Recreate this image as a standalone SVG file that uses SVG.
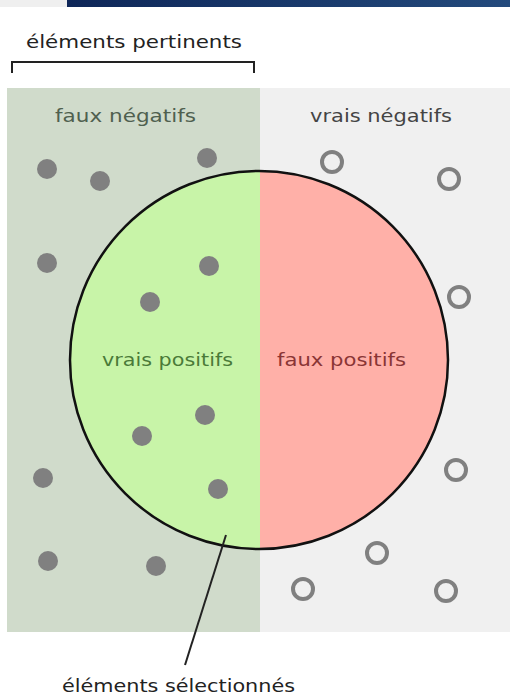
<svg xmlns="http://www.w3.org/2000/svg" width="510" height="697" viewBox="0 0 510 697">
<defs>
<linearGradient id="bar" x1="0" y1="0" x2="1" y2="0">
<stop offset="0" stop-color="#0e2658"/>
<stop offset="1" stop-color="#234a7c"/>
</linearGradient>
<clipPath id="cl"><rect x="0" y="0" width="260" height="697"/></clipPath>
<clipPath id="cr"><rect x="260" y="0" width="250" height="697"/></clipPath>
</defs>
<style>
text{font-family:"DejaVu Sans","Liberation Sans",sans-serif;font-size:17px}
.dot{fill:#808080}
.ring{fill:none;stroke:#808080;stroke-width:4}
.ln{stroke:#222;stroke-width:2;fill:none}
</style>
<rect x="0" y="0" width="67" height="7" fill="#efefef"/>
<rect x="67" y="0" width="443" height="7" fill="url(#bar)"/>
<g id="relevant">
<rect x="7" y="88" width="253" height="544" fill="#d0dbcb"/>
<text x="55" y="122" fill="#4f604f" textLength="141" lengthAdjust="spacingAndGlyphs">faux négatifs</text>
</g>
<g id="irrelevant">
<rect x="260" y="88" width="250" height="544" fill="#f0f0f0"/>
<text x="310" y="122" fill="#444" textLength="142" lengthAdjust="spacingAndGlyphs">vrais négatifs</text>
</g>
<g id="selected">
<circle cx="259" cy="360" r="189" fill="#c8f4a8" clip-path="url(#cl)"/>
<circle cx="259" cy="360" r="189" fill="#ffb0a8" clip-path="url(#cr)"/>
<circle cx="259" cy="360" r="189" fill="none" stroke="#111" stroke-width="2.5"/>
<text x="102" y="366" fill="#4a7a38" textLength="131" lengthAdjust="spacingAndGlyphs">vrais positifs</text>
<text x="277" y="366" fill="#8a3535" textLength="129" lengthAdjust="spacingAndGlyphs">faux positifs</text>
</g>
<g id="dots">
<circle class="dot" cx="47" cy="169" r="10"/>
<circle class="dot" cx="100" cy="181" r="10"/>
<circle class="dot" cx="207" cy="158" r="10"/>
<circle class="dot" cx="47" cy="263" r="10"/>
<circle class="dot" cx="209" cy="266" r="10"/>
<circle class="dot" cx="150" cy="302" r="10"/>
<circle class="dot" cx="205" cy="415" r="10"/>
<circle class="dot" cx="142" cy="436" r="10"/>
<circle class="dot" cx="218" cy="489" r="10"/>
<circle class="dot" cx="43" cy="478" r="10"/>
<circle class="dot" cx="48" cy="561" r="10"/>
<circle class="dot" cx="156" cy="566" r="10"/>
<circle class="ring" cx="332" cy="162" r="10"/>
<circle class="ring" cx="449" cy="179" r="10"/>
<circle class="ring" cx="459" cy="297" r="10"/>
<circle class="ring" cx="456" cy="470" r="10"/>
<circle class="ring" cx="377" cy="553" r="10"/>
<circle class="ring" cx="303" cy="589" r="10"/>
<circle class="ring" cx="446" cy="591" r="10"/>
</g>
<g id="connectors">
<path class="ln" d="M12 73 V62 H254 V73"/>
<path class="ln" d="M226 535 L185 665"/>
</g>
<g id="labels">
<text x="26" y="48" fill="#222" font-size="18" textLength="216" lengthAdjust="spacingAndGlyphs">éléments pertinents</text>
<text x="62" y="692" fill="#222" font-size="18" textLength="233" lengthAdjust="spacingAndGlyphs">éléments sélectionnés</text>
</g>
</svg>
